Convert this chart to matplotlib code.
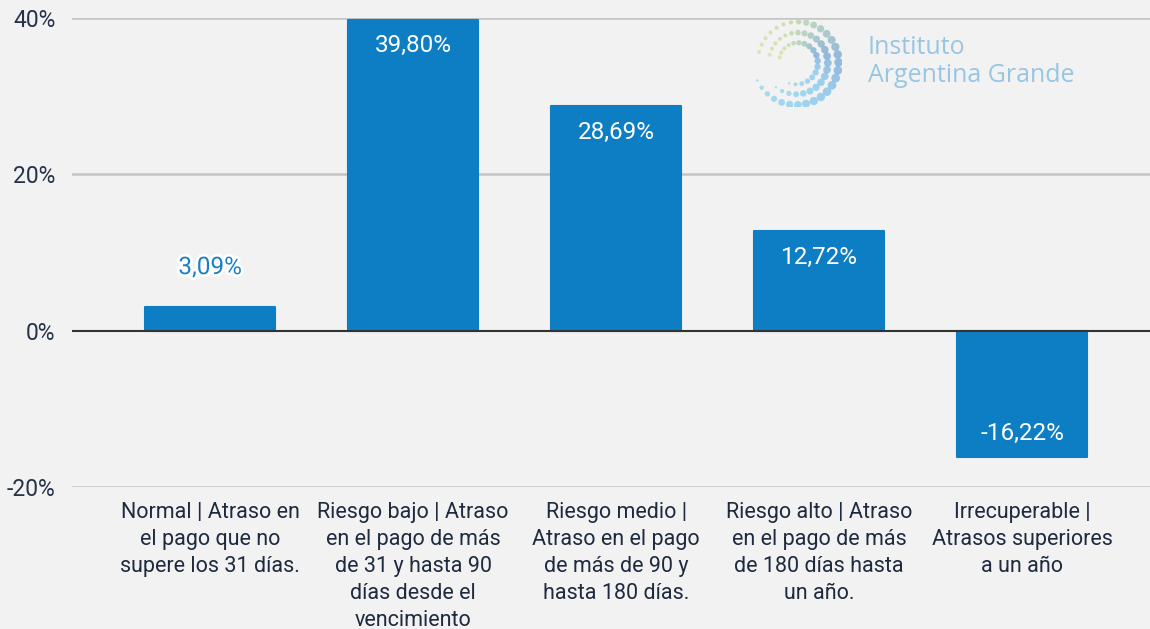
import numpy as np
import matplotlib.pyplot as plt
import matplotlib.patheffects as pe
from matplotlib.colors import LinearSegmentedColormap

# data
categories = [
    "Normal | Atraso en\nel pago que no\nsupere los 31 días.",
    "Riesgo bajo | Atraso\nen el pago de más\nde 31 y hasta 90\ndías desde el\nvencimiento",
    "Riesgo medio |\nAtraso en el pago\nde más de 90 y\nhasta 180 días.",
    "Riesgo alto | Atraso\nen el pago de más\nde 180 días hasta\nun año.",
    "Irrecuperable |\nAtrasos superiores\na un año",
]
values = [3.09, 39.80, 28.69, 12.72, -16.22]
yticks = [-20, 0, 20, 40]

bg = "#f2f2f2"
blue = "#0d7dc4"
tick_color = "#253248"

plt.rcParams['font.family'] = ['Roboto', 'DejaVu Sans']

fig = plt.figure(figsize=(11.5, 6.29), dpi=100, facecolor=bg)
ax = fig.add_axes([72 / 1150, 1 - 487 / 629, 1 - 72 / 1150, (487 - 18) / 629])
ax.set_facecolor(bg)

x = np.arange(len(values))
ax.bar(x, values, width=0.64, color=blue, edgecolor=blue, lw=1.5,
       joinstyle="round", zorder=3)

ax.set_xlim(-0.68, 4.63)
ax.set_ylim(-20, 40)
ax.set_yticks(yticks)
ax.set_yticklabels([f"{t}%" for t in yticks])
for t in yticks:
    if t == 0:
        ax.axhline(t, color="#333333", lw=1.5, zorder=4)
    else:
        ax.axhline(t, color="#c4c4c4", lw=1.8, zorder=1)

ax.set_xticks(x)
ax.set_xticklabels(categories, fontsize=15.5, color="#1e2a3e", linespacing=1.37, va="top")
ax.tick_params(axis="x", length=0, pad=11)
ax.tick_params(axis="y", length=0, labelsize=16.5, labelcolor=tick_color, pad=12)
for s in ax.spines.values():
    s.set_visible(False)

# value labels
for xi, v in zip(x, values):
    txt = f"{v:.2f}%".replace(".", ",")
    if v > 10:
        ax.annotate(txt, (xi, v), xytext=(0, -19), textcoords="offset points",
                    ha="center", va="center", color="white", fontsize=17.5, zorder=5)
    elif v < 0:
        ax.annotate(txt, (xi, v), xytext=(0, 17), textcoords="offset points",
                    ha="center", va="center", color="white", fontsize=17.5, zorder=5)
    else:
        t = ax.annotate(txt, (xi, v), xytext=(0, 28), textcoords="offset points",
                        ha="center", va="center", color="#1a80c6", fontsize=17.5, zorder=5)
        t.set_path_effects([pe.withStroke(linewidth=4, foreground="white")])

# logo (decoration)
lax = fig.add_axes([752 / 1150, 1 - 112 / 629, 90 / 1150, 100 / 629])
lax.set_xlim(-1.15, 1.15)
lax.set_ylim(-1.15, 1.15)
lax.set_aspect("equal")
lax.axis("off")
cmap = LinearSegmentedColormap.from_list(
    "logo", ["#9ad6f0", "#8ccfee", "#86c6ea", "#7aa8d6", "#a6c8bc", "#c8dd9a", "#d6e3a6"])
for r0, n, a0, sz in [(1.12, 30, 205, 34), (0.84, 24, 230, 26), (0.58, 18, 250, 16)]:
    t = np.linspace(0, 1, n)
    ang = np.deg2rad(a0 + (525 - a0) * t)
    r = r0 - 0.12 * t
    sizes = 3 + sz * np.sin(np.pi * np.clip(t * 1.25, 0, 1)) ** 0.8 + 6 * t
    lax.scatter(r * np.cos(ang), r * np.sin(ang), s=sizes,
                c=cmap(t), alpha=0.8, lw=0)
fig.text(868 / 1150, 1 - 47 / 629, "Instituto", color="#98c6e2",
         fontsize=18, family=["Open Sans", "DejaVu Sans"], va="center", ha="left")
fig.text(868 / 1150, 1 - 76 / 629, "Argentina Grande", color="#98c6e2",
         fontsize=18, family=["Open Sans", "DejaVu Sans"], va="center", ha="left")

fig.savefig("out.png", dpi=100, facecolor=bg)
